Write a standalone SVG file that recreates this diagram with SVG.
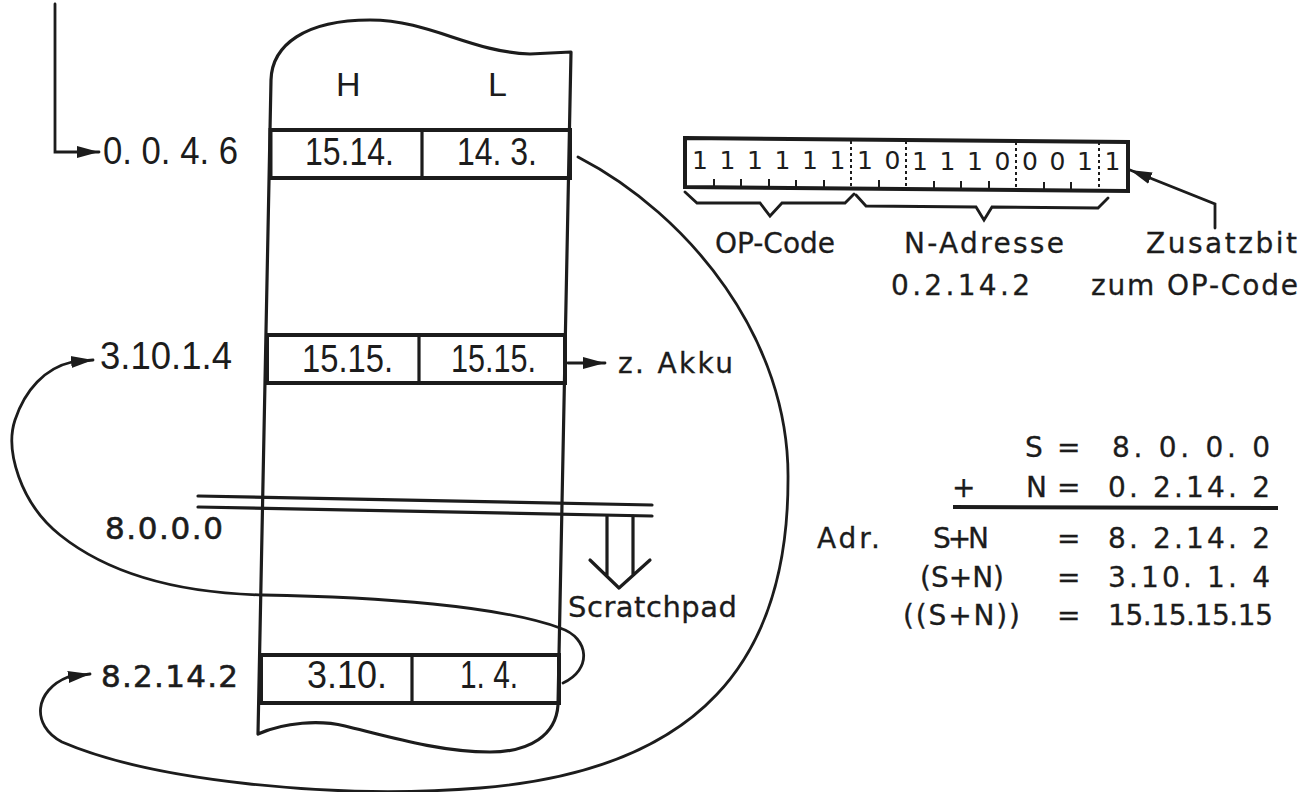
<svg xmlns="http://www.w3.org/2000/svg" width="1305" height="792" viewBox="0 0 1305 792">
<style>
.ln{fill:none;stroke:#1c1c1c;stroke-width:3.2;stroke-linejoin:round;stroke-linecap:round}
.th{fill:none;stroke:#1c1c1c;stroke-width:4}
.cv{fill:none;stroke:#1c1c1c;stroke-width:2.8;stroke-linecap:round}
.din{font-family:"Liberation Sans",Arial,sans-serif;font-size:38px;fill:#1c1c1c}
.hl{font-family:"Liberation Sans",Arial,sans-serif;font-size:34px;fill:#1c1c1c}
.mono{font-family:"DejaVu Sans","Noto Sans",sans-serif;font-size:28px;fill:#1c1c1c;stroke:#1c1c1c;stroke-width:0.3}
.addr{font-family:"DejaVu Sans","Noto Sans",sans-serif;font-size:31px;fill:#1c1c1c;stroke:#1c1c1c;stroke-width:0.6}
.bit{font-family:"DejaVu Sans","Noto Sans",sans-serif;font-size:25px;fill:#1c1c1c;text-anchor:middle}
.tick{stroke:#1c1c1c;stroke-width:2}
.dot{stroke:#1c1c1c;stroke-width:2;stroke-dasharray:3 3}
</style>
<defs>
<marker id="ah" markerWidth="24" markerHeight="14" refX="22" refY="7" orient="auto" markerUnits="userSpaceOnUse">
<path d="M0,1 L22,7 L0,13 z" fill="#1c1c1c"/>
</marker>
</defs>
<rect width="1305" height="792" fill="#ffffff"/>

<g id="memory">
<path class="ln" d="M258,734 L271,80 C272,45 305,20 370,20 C430,20 470,52 530,54 L571,52 L558,705 C556,735 530,752 490,752 C440,752 390,737 345,726 C320,720 285,722 258,734 Z"/>
<text class="hl" x="336" y="96">H</text>
<text class="hl" x="488" y="96">L</text>
</g>

<g id="row-0046">
<rect class="th" x="270.5" y="130" width="299.5" height="48"/>
<line class="ln" x1="422" y1="130" x2="422" y2="178"/>
<text class="din" x="305" y="165" textLength="89" lengthAdjust="spacingAndGlyphs">15.14.</text>
<text class="din" x="457" y="165" textLength="80" lengthAdjust="spacingAndGlyphs">14. 3.</text>
<text class="din" x="103" y="164" textLength="135" lengthAdjust="spacingAndGlyphs">0. 0. 4. 6</text>
</g>

<g id="row-31014">
<rect class="th" x="267" y="335" width="298" height="48"/>
<line class="ln" x1="419" y1="335" x2="419" y2="383"/>
<text class="din" x="302" y="372" textLength="91" lengthAdjust="spacingAndGlyphs">15.15.</text>
<text class="din" x="451" y="372" textLength="85" lengthAdjust="spacingAndGlyphs">15.15.</text>
<text class="din" x="100" y="369" textLength="132" lengthAdjust="spacingAndGlyphs">3.10.1.4</text>
</g>

<g id="boundary-8000">
<line class="ln" x1="198" y1="496" x2="652" y2="505"/>
<line class="ln" x1="198" y1="507" x2="652" y2="516"/>
<text class="addr" x="105" y="539" textLength="118" lengthAdjust="spacing">8.0.0.0</text>
<path class="ln" d="M607,516 V576 M633,516 V575 M590,560 L619,588 L650,560"/>
<text class="mono" x="568" y="617" style="font-size:29px" textLength="169" lengthAdjust="spacing">Scratchpad</text>
</g>

<g id="row-82142">
<rect class="th" x="261" y="655" width="298" height="48"/>
<line class="ln" x1="412" y1="655" x2="412" y2="703"/>
<text class="din" x="307" y="688" textLength="80" lengthAdjust="spacingAndGlyphs">3.10.</text>
<text class="din" x="460" y="688" textLength="58" lengthAdjust="spacingAndGlyphs">1. 4.</text>
<text class="addr" x="101" y="687" textLength="137" lengthAdjust="spacing">8.2.14.2</text>
</g>

<g id="akku">
<text class="mono" x="618" y="373" textLength="115" lengthAdjust="spacing">z. Akku</text>
</g>

<g id="register">
<polygon class="th" points="685,138 1128,142 1128,191 685,187"/>
<line class="dot" x1="851" y1="141" x2="851" y2="188"/>
<line class="dot" x1="906" y1="141" x2="906" y2="189"/>
<line class="dot" x1="1016" y1="142" x2="1016" y2="190"/>
<line class="dot" x1="1099" y1="142" x2="1099" y2="190"/>
<g class="tick">
<line x1="714" y1="187" x2="714" y2="179"/>
<line x1="741" y1="187" x2="741" y2="179"/>
<line x1="769" y1="187" x2="769" y2="179"/>
<line x1="796" y1="188" x2="796" y2="180"/>
<line x1="824" y1="188" x2="824" y2="180"/>
<line x1="879" y1="188" x2="879" y2="180"/>
<line x1="934" y1="189" x2="934" y2="181"/>
<line x1="961" y1="189" x2="961" y2="181"/>
<line x1="989" y1="189" x2="989" y2="181"/>
<line x1="1044" y1="190" x2="1044" y2="182"/>
<line x1="1071" y1="190" x2="1071" y2="182"/>
</g>
<text class="bit" x="700" y="169">1</text>
<text class="bit" x="727.5" y="169">1</text>
<text class="bit" x="755" y="169">1</text>
<text class="bit" x="782.5" y="169">1</text>
<text class="bit" x="810" y="169">1</text>
<text class="bit" x="837.5" y="169">1</text>
<text class="bit" x="865" y="169">1</text>
<text class="bit" x="892.5" y="169">0</text>
<text class="bit" x="920" y="170">1</text>
<text class="bit" x="947.5" y="170">1</text>
<text class="bit" x="975" y="170">1</text>
<text class="bit" x="1002.5" y="170">0</text>
<text class="bit" x="1030" y="170">0</text>
<text class="bit" x="1057.5" y="170">0</text>
<text class="bit" x="1085" y="170">1</text>
<text class="bit" x="1112.5" y="170">1</text>
<path class="cv" d="M685,192 L697,203 L760,203 L770,216 L782,203 L845,203 L854,194"/>
<path class="cv" d="M856,195 L866,206 L976,207 L984,220 L992,207 L1098,208 L1108,198"/>
<text class="mono" x="715" y="253" textLength="120" lengthAdjust="spacing">OP-Code</text>
<text class="mono" x="904" y="253" textLength="160" lengthAdjust="spacing">N-Adresse</text>
<text class="mono" x="891" y="295" textLength="139" lengthAdjust="spacing">0.2.14.2</text>
<text class="mono" x="1146" y="253" textLength="151" lengthAdjust="spacing">Zusatzbit</text>
<text class="mono" x="1091" y="295" textLength="207" lengthAdjust="spacing">zum OP-Code</text>
</g>

<g id="equations">
<text class="mono" x="1025" y="457">S</text>
<text class="mono" x="1057" y="457">=</text>
<text class="mono" x="1112" y="457" textLength="158" lengthAdjust="spacing">8. 0. 0. 0</text>
<text class="mono" x="952" y="497">+</text>
<text class="mono" x="1026" y="497">N</text>
<text class="mono" x="1057" y="497">=</text>
<text class="mono" x="1108" y="497" textLength="162" lengthAdjust="spacing">0. 2.14. 2</text>
<line x1="953" y1="507" x2="1278" y2="508" stroke="#1c1c1c" stroke-width="4"/>
<text class="mono" x="817" y="548" textLength="63" lengthAdjust="spacing">Adr.</text>
<text class="mono" x="933" y="548" textLength="56" lengthAdjust="spacing">S+N</text>
<text class="mono" x="920" y="587" textLength="84" lengthAdjust="spacing">(S+N)</text>
<text class="mono" x="1057" y="548">=</text>
<text class="mono" x="1108" y="548" textLength="162" lengthAdjust="spacing">8. 2.14. 2</text>
<text class="mono" x="1057" y="587">=</text>
<text class="mono" x="1108" y="587" textLength="162" lengthAdjust="spacing">3.10. 1. 4</text>
<text class="mono" x="903" y="625" textLength="117" lengthAdjust="spacing">((S+N))</text>
<text class="mono" x="1057" y="625">=</text>
<text class="mono" x="1108" y="625" textLength="165" lengthAdjust="spacing">15.15.15.15</text>
</g>

<g id="connectors">
<path class="cv" d="M55,4 V152 H99" marker-end="url(#ah)"/>
<path class="cv" d="M568,363 H605" marker-end="url(#ah)"/>
<path class="cv" d="M578,157 C690,215 790,340 788,480 C788,660 700,770 480,788 C330,800 150,780 62,742 C30,725 35,690 68,677 L90,674" marker-end="url(#ah)"/>
<path class="cv" d="M563,683 C592,670 590,638 560,628 C500,606 380,597 263,595 C180,593 110,575 60,535 C20,503 5,450 15,420 C25,390 45,368 72,362 L93,360" marker-end="url(#ah)"/>
<path class="cv" d="M1215,228 V204 L1130,170" marker-end="url(#ah)"/>
</g>
</svg>
